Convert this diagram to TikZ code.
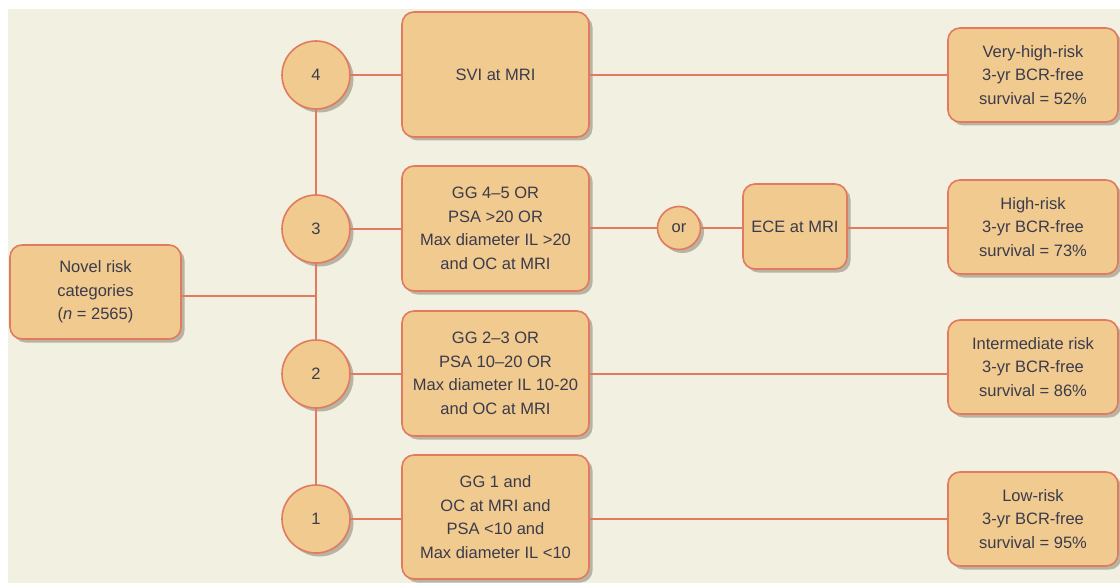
\documentclass[tikz,border=0pt]{standalone}
\usepackage{fontspec}
\setmainfont{Liberation Sans}
\usetikzlibrary{shadows}
\definecolor{bg}{HTML}{F2F0E0}
\definecolor{boxfill}{HTML}{F0CA8F}
\definecolor{edge}{HTML}{E27A5F}
\definecolor{txt}{HTML}{3B3B4B}
\definecolor{shad}{HTML}{A9A596}
\tikzset{
  base/.style={draw=edge, line width=1.6pt, fill=boxfill, text=txt, align=center,
    font=\fontsize{16.5}{23.5}\selectfont,
    drop shadow={shadow xshift=3.5pt, shadow yshift=-3.5pt, fill=shad, opacity=0.8},
    inner sep=0pt},
  rbox/.style={base, rectangle, rounded corners=12pt},
  num/.style={base, circle, minimum size=68pt},
  orc/.style={base, circle, minimum size=43pt},
  conn/.style={draw=edge, line width=1.6pt}
}
\begin{document}
\begin{tikzpicture}[x=1pt,y=-1pt]
\useasboundingbox (0,0) rectangle (1120,583);
\fill[bg] (8,9) rectangle (1120,583);
% numbered circles
\node[num] (c4) at (316,75) {4};
\node[num] (c3) at (316,229) {3};
\node[num] (c2) at (316,374) {2};
\node[num] (c1) at (316,519) {1};
% left box
\node[rbox, minimum width=171pt, minimum height=94pt] (novel) at (95.5,292) {Novel risk\\categories\\ (\textit{n} = 2565)};
% middle boxes
\node[rbox, minimum width=187pt, minimum height=125pt] (b4) at (495.5,74.5) {SVI at MRI};
\node[rbox, minimum width=187pt, minimum height=125pt] (b3) at (495.5,228.5) {GG 4–5 OR\\PSA >20 OR\\Max diameter IL >20\\and OC at MRI};
\node[rbox, minimum width=187pt, minimum height=125pt] (b2) at (495.5,373.5) {GG 2–3 OR\\PSA 10–20 OR\\Max diameter IL 10-20\\and OC at MRI};
\node[rbox, minimum width=187pt, minimum height=124pt] (b1) at (495.5,517) {GG 1 and\\OC at MRI and\\PSA <10 and\\Max diameter IL <10};
% or + ECE
\node[orc] (or) at (679,228) {or};
\node[rbox, minimum width=104pt, minimum height=85pt] (ece) at (795,226.5) {ECE at MRI};
% right boxes
\node[rbox, minimum width=170pt, minimum height=94pt] (r4) at (1033,75) {Very-high-risk\\3-yr BCR-free\\survival = 52\%};
\node[rbox, minimum width=170pt, minimum height=94pt] (r3) at (1033,227) {High-risk\\3-yr BCR-free\\survival = 73\%};
\node[rbox, minimum width=170pt, minimum height=94pt] (r2) at (1033,367) {Intermediate risk\\3-yr BCR-free\\survival = 86\%};
\node[rbox, minimum width=170pt, minimum height=94pt] (r1) at (1033,519) {Low-risk\\3-yr BCR-free\\survival = 95\%};
% connectors
\coordinate (jn) at (316,296);
\draw[conn] (c4.south) -- (c3.north);
\draw[conn] (c3.south) -- (c2.north);
\draw[conn] (c2.south) -- (c1.north);
\draw[conn] (novel.east |- jn) -- (jn);
\draw[conn] (c4.east) -- (c4.east -| b4.west);
\draw[conn] (b4.east |- c4) -- (r4.west |- c4);
\draw[conn] (c3.east) -- (c3.east -| b3.west);
\draw[conn] (b3.east |- or) -- (or.west);
\draw[conn] (or.east) -- (or.east -| ece.west);
\draw[conn] (ece.east |- or) -- (r3.west |- or);
\draw[conn] (c2.east) -- (c2.east -| b2.west);
\draw[conn] (b2.east |- c2) -- (r2.west |- c2);
\draw[conn] (c1.east) -- (c1.east -| b1.west);
\draw[conn] (b1.east |- c1) -- (r1.west |- c1);
\end{tikzpicture}
\end{document}
